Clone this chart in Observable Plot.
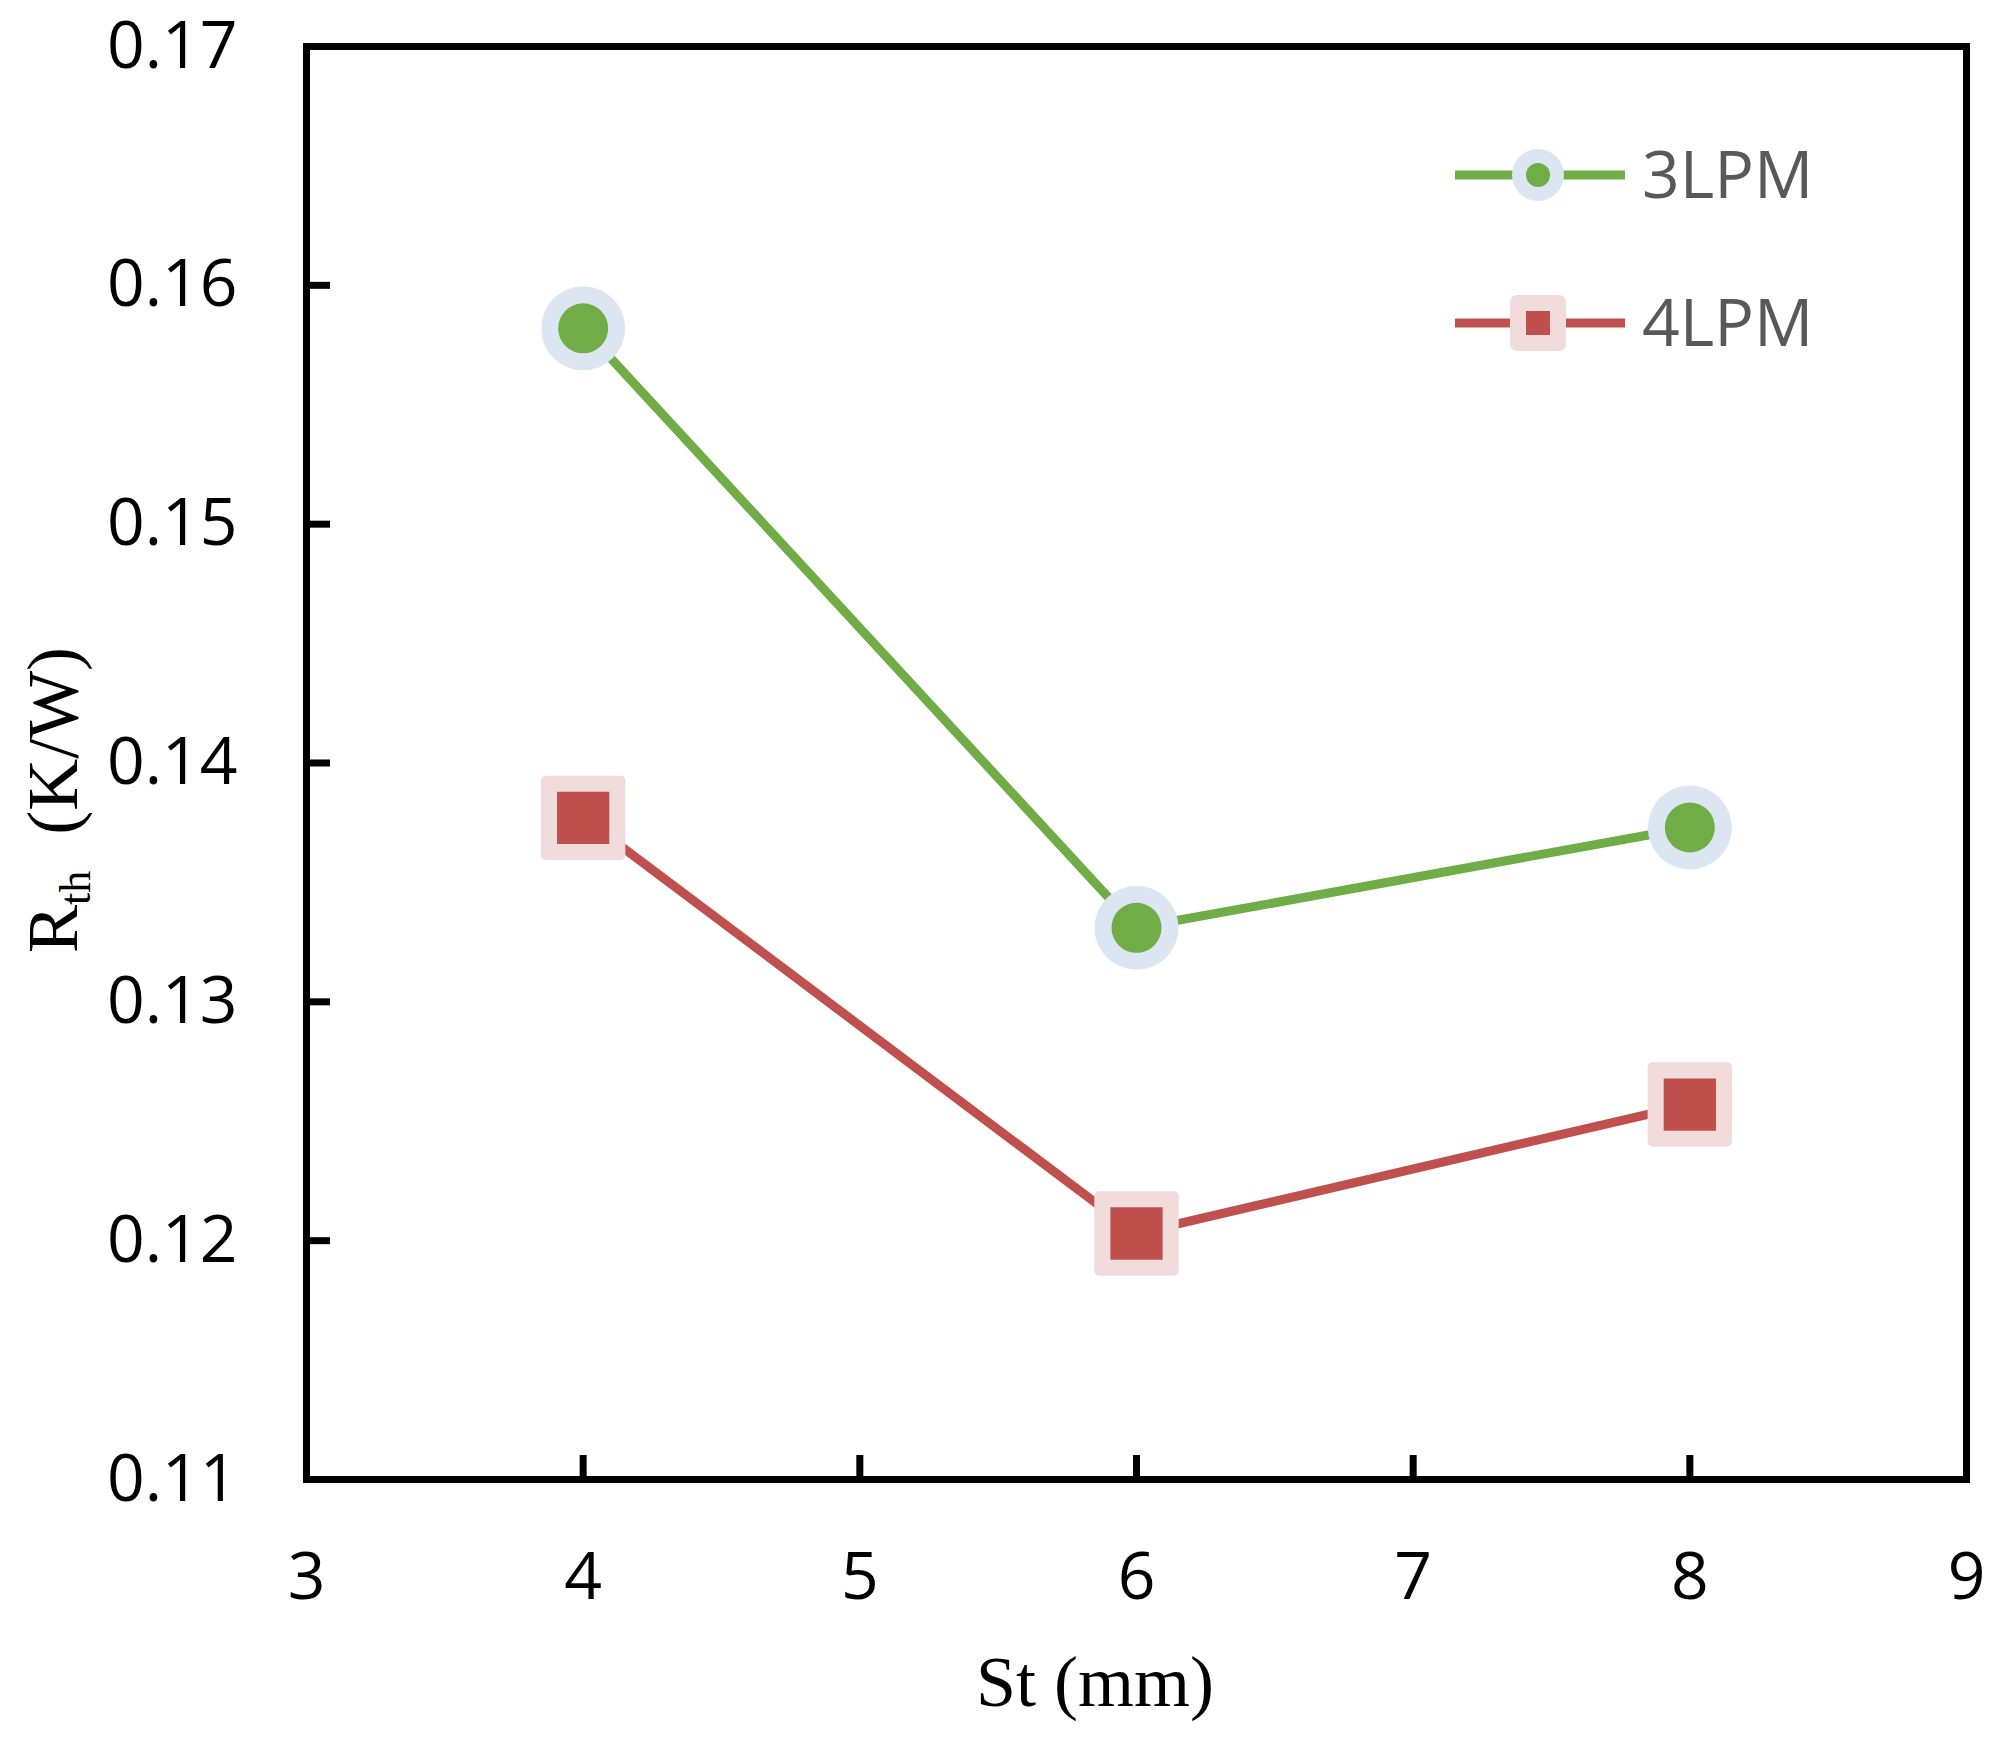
<!DOCTYPE html>
<html>
<head>
<meta charset="utf-8">
<script src="https://cdn.jsdelivr.net/npm/d3@7"></script>
<script src="https://cdn.jsdelivr.net/npm/@observablehq/plot@0.6"></script>
<style>
  html, body { margin: 0; padding: 0; background: #ffffff; }
  #chart { width: 2006px; height: 1744px; }
</style>
</head>
<body>
<div id="chart"></div>
<script>
// ---- data ----
const st = [4, 6, 8];
const rth3LPM = [0.1582, 0.1331, 0.1373];
const rth4LPM = [0.1377, 0.1203, 0.1257];
const seriesNames = ["3LPM", "4LPM"];
const seriesColors = ["#70AD47", "#C0504D"];
const haloColors = ["#DCE6F2", "#F2DCDB"];
const seriesSymbols = ["circle", "square"];
const xTicks = [3, 4, 5, 6, 7, 8, 9];
const yTicks = [0.11, 0.12, 0.13, 0.14, 0.15, 0.16, 0.17];
const xTitle = "St (mm)";

const seriesValues = [rth3LPM, rth4LPM];
const rows = seriesNames.map((name, i) => st.map((x, j) => ({series: name, st: x, rth: seriesValues[i][j]})));

const marks = [];
rows.forEach((data, i) => {
  marks.push(Plot.line(data, {x: "st", y: "rth", stroke: seriesColors[i], strokeWidth: 9}));
});
rows.forEach((data, i) => {
  if (seriesSymbols[i] === "circle") {
    marks.push(Plot.dot(data, {x: "st", y: "rth", r: 42, fill: haloColors[i], stroke: "none"}));
    marks.push(Plot.dot(data, {x: "st", y: "rth", r: 25, fill: seriesColors[i], stroke: "none"}));
  } else {
    marks.push(Plot.dot(data, {x: "st", y: "rth", symbol: "square", r: 42, fill: haloColors[i], stroke: haloColors[i], strokeWidth: 10, strokeLinejoin: "round"}));
    marks.push(Plot.dot(data, {x: "st", y: "rth", symbol: "square", r: 29.5, fill: seriesColors[i], stroke: "none"}));
  }
});

const chart = Plot.plot({
  width: 2006,
  height: 1744,
  marginLeft: 306,
  marginRight: 40,
  marginTop: 46,
  marginBottom: 265,
  style: {background: "white", fontFamily: "Open Sans", overflow: "visible"},
  x: {domain: [3, 9], label: null},
  y: {domain: [0.11, 0.17], label: null},
  marks: [
    ...marks,
    Plot.frame({stroke: "black", strokeWidth: 7}),
    Plot.axisX({ticks: xTicks, tickSize: 24, dy: -24, strokeWidth: 7, stroke: "black", fill: "none", label: null}),
    Plot.axisY({ticks: yTicks, tickSize: 24, dx: 24, strokeWidth: 7, stroke: "black", fill: "none", label: null}),
    Plot.axisX({ticks: xTicks, tickSize: 0, tickPadding: 73, fontSize: 66, fill: "black", label: null, tickFormat: d3.format("d")}),
    Plot.axisY({ticks: yTicks, tickSize: 0, tickPadding: 69, fontSize: 66, fill: "black", label: null, tickFormat: d3.format(".2f")})
  ]
});
document.getElementById("chart").appendChild(chart);

// ---- titles and legend ----
const svg = d3.select(chart);

svg.append("text")
  .attr("x", 1095).attr("y", 1706)
  .attr("text-anchor", "middle")
  .attr("font-family", "Liberation Serif")
  .attr("font-size", 72)
  .attr("fill", "black")
  .text(xTitle);

const yt = svg.append("text")
  .attr("transform", "translate(77,800) rotate(-90)")
  .attr("text-anchor", "middle")
  .attr("font-family", "Liberation Serif")
  .attr("font-size", 72)
  .attr("fill", "black");
yt.append("tspan").text("R");
yt.append("tspan").attr("font-size", 44).attr("dy", 13).text("th");
yt.append("tspan").attr("dy", -13).text("\u00a0\u00a0(K/W)");

const legend = svg.append("g");
seriesNames.forEach((name, i) => {
  const cy = 175 + i * 148;
  const g = legend.append("g");
  g.append("line").attr("x1", 1455).attr("x2", 1625).attr("y1", cy).attr("y2", cy)
    .attr("stroke", seriesColors[i]).attr("stroke-width", 9);
  if (seriesSymbols[i] === "circle") {
    g.append("circle").attr("cx", 1538).attr("cy", cy).attr("r", 26).attr("fill", haloColors[i]);
    g.append("circle").attr("cx", 1538).attr("cy", cy).attr("r", 12).attr("fill", seriesColors[i]);
  } else {
    g.append("rect").attr("x", 1510).attr("y", cy - 28).attr("width", 56).attr("height", 56).attr("rx", 7).attr("fill", haloColors[i]);
    g.append("rect").attr("x", 1526).attr("y", cy - 12).attr("width", 24).attr("height", 24).attr("fill", seriesColors[i]);
  }
  g.append("text").attr("x", 1642).attr("y", cy + 23)
    .attr("text-anchor", "start")
    .attr("font-family", "Open Sans").attr("font-size", 66).attr("fill", "#595959")
    .text(name);
});
</script>
</body>
</html>
